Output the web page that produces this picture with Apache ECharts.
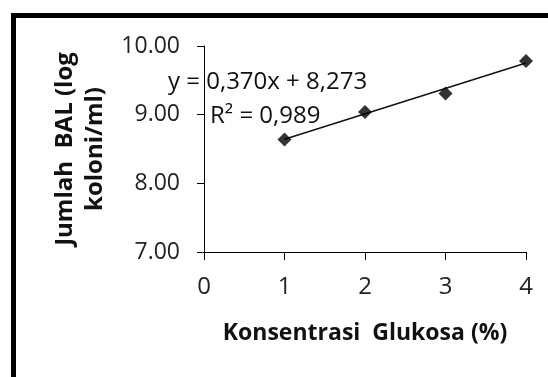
<!DOCTYPE html>
<html>
<head>
<meta charset="utf-8">
<script src="https://cdn.jsdelivr.net/npm/echarts@6/dist/echarts.min.js"></script>
<style>
  html, body { margin: 0; padding: 0; background: #fff; }
  #chart { width: 548px; height: 377px; }
</style>
</head>
<body>
<div id="chart"></div>
<script>
// Glucose concentration (%) vs. LAB count (log colonies/ml)
const glukosa = [1, 2, 3, 4];
const jumlahBAL = [8.64, 9.04, 9.31, 9.78];

// Linear trendline y = 0,370x + 8,273 over the measured range
const trendX = [1, 4];
const trendY = [8.643, 9.753];

const yTicks = [7, 8, 9, 10];
const xTicks = [0, 1, 2, 3, 4];

const eqLine1 = 'y = 0,370x + 8,273';
const eqLine2 = 'R² = 0,989';

const FONT = '"Open Sans", "DejaVu Sans", sans-serif';
const INK = '#111';

const chart = echarts.init(document.getElementById('chart'), null, { renderer: 'canvas' });

chart.setOption({
  animation: false,
  backgroundColor: '#fff',
  grid: { left: 204, right: 22, top: 46, bottom: 125, containLabel: false },
  xAxis: {
    type: 'value',
    min: xTicks[0],
    max: xTicks[xTicks.length - 1],
    interval: 1,
    name: 'Konsentrasi  Glukosa (%)',
    nameLocation: 'middle',
    nameGap: 70,
    nameTextStyle: { fontFamily: FONT, fontSize: 23, fontWeight: 'bold', color: INK },
    axisLine: { onZero: false, lineStyle: { color: '#000', width: 1 } },
    axisTick: { show: true, inside: false, length: 8, lineStyle: { color: '#000' } },
    axisLabel: { fontFamily: FONT, fontSize: 24, color: '#222', margin: 23 },
    splitLine: { show: false }
  },
  yAxis: {
    type: 'value',
    min: yTicks[0],
    max: yTicks[yTicks.length - 1],
    interval: 1,
    name: 'Jumlah  BAL (log\nkoloni/ml)',
    nameLocation: 'middle',
    nameRotate: 90,
    nameGap: 92,
    nameTextStyle: { fontFamily: FONT, fontSize: 24, fontWeight: 'bold', color: INK, lineHeight: 30, align: 'center' },
    axisLine: { show: true, onZero: false, lineStyle: { color: '#000', width: 1 } },
    axisTick: { show: true, inside: false, length: 7, lineStyle: { color: '#000' } },
    axisLabel: {
      fontFamily: FONT, fontSize: 23, color: '#222', margin: 24,
      formatter: v => v.toFixed(2)
    },
    splitLine: { show: false }
  },
  series: [
    {
      name: 'Trendline',
      type: 'line',
      data: trendX.map((x, i) => [x, trendY[i]]),
      showSymbol: false,
      symbol: 'none',
      lineStyle: { color: '#111', width: 1.5 },
      z: 2
    },
    {
      name: 'Jumlah BAL',
      type: 'scatter',
      data: glukosa.map((x, i) => [x, jumlahBAL[i]]),
      symbol: 'diamond',
      symbolSize: 14,
      itemStyle: { color: '#000' },
      z: 3
    }
  ],
  graphic: [
    {
      type: 'rect',
      shape: { x: 13.5, y: 15.5, width: 700, height: 500 },
      style: { fill: 'none', stroke: '#000', lineWidth: 5 },
      silent: true,
      z: 10
    },
    {
      type: 'text',
      left: 168, top: 70,
      style: { text: eqLine1, font: '24px ' + FONT, fill: INK },
      z: 5
    },
    {
      type: 'text',
      left: 210, top: 104,
      style: { text: eqLine2, font: '24px ' + FONT, fill: INK },
      z: 5
    }
  ]
});
</script>
</body>
</html>
